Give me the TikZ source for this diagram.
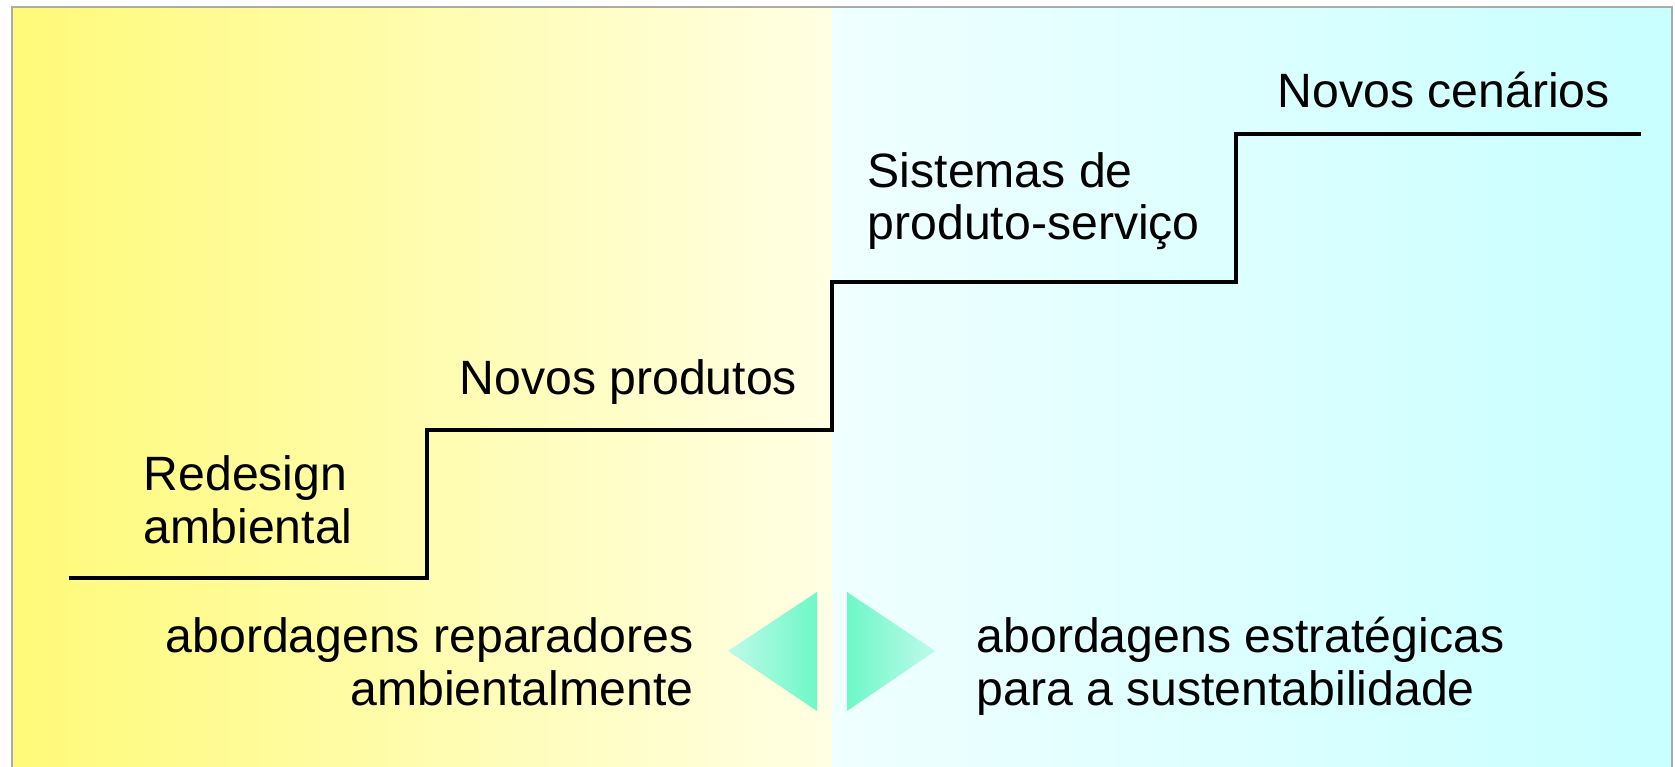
\documentclass[tikz,border=0pt]{standalone}
\usepackage{fontspec}
\setmainfont{Liberation Sans}
\usetikzlibrary{positioning}
\tikzset{
  lbl/.style={inner sep=0pt,font=\fontsize{13.7}{14.8}\selectfont},
  stair/.style={line width=1.2pt,black},
  frameline/.style={line width=0.6pt,draw={rgb,255:red,170;green,170;blue,170}}
}
\definecolor{ylw}{RGB}{255,250,120}
\definecolor{ylwlight}{RGB}{255,255,228}
\definecolor{cyanlight}{RGB}{240,255,255}
\definecolor{cyanmid}{RGB}{200,255,255}
\definecolor{tridark}{RGB}{110,248,200}
\definecolor{trilight}{RGB}{190,250,232}

\begin{document}
\begin{tikzpicture}[x=0.01cm,y=-0.01cm]
	\useasboundingbox (0,0) rectangle (1675,767);
	\fill[white] (0,0) rectangle (1675,767);
	
	% panels
	\shade[left color=ylw,right color=ylwlight] (12,7) rectangle (832,767);
	\shade[left color=cyanlight,right color=cyanmid] (832,7) rectangle (1672,767);
	\draw[frameline] (12,767) -- (12,7) -- (1672,7) -- (1672,767);
	
	% stairs
	\draw[stair] (69,578) -- (427,578) -- (427,430) -- (832,430) -- (832,282)
		-- (1236,282) -- (1236,134) -- (1641,134);
	
	% labels (base anchor = last line)
	\node[lbl,anchor=base west,align=left] (redesign) at (143,543) {Redesign\\ambiental};
	\node[lbl,anchor=base west] (produtos) at (459,395) {Novos produtos};
	\node[lbl,anchor=base west,align=left] (sistemas) at (867,240) {Sistemas de\\produto-serviço};
	\node[lbl,anchor=base west] (cenarios) at (1277,108) {Novos cenários};
	
	\node[lbl,anchor=base east,align=right] (reparadores) at (694,705) {abordagens reparadores\\ambientalmente};
	\node[lbl,anchor=base west,align=left] (estrategicas) at (976,705) {abordagens estratégicas\\para a sustentabilidade};
	
	% triangles
	\shade[left color=trilight,right color=tridark] (728,651) -- (817,592) -- (817,711) -- cycle;
	\shade[left color=tridark,right color=trilight] (847,592) -- (935,651) -- (847,711) -- cycle;
\end{tikzpicture}
\end{document}
